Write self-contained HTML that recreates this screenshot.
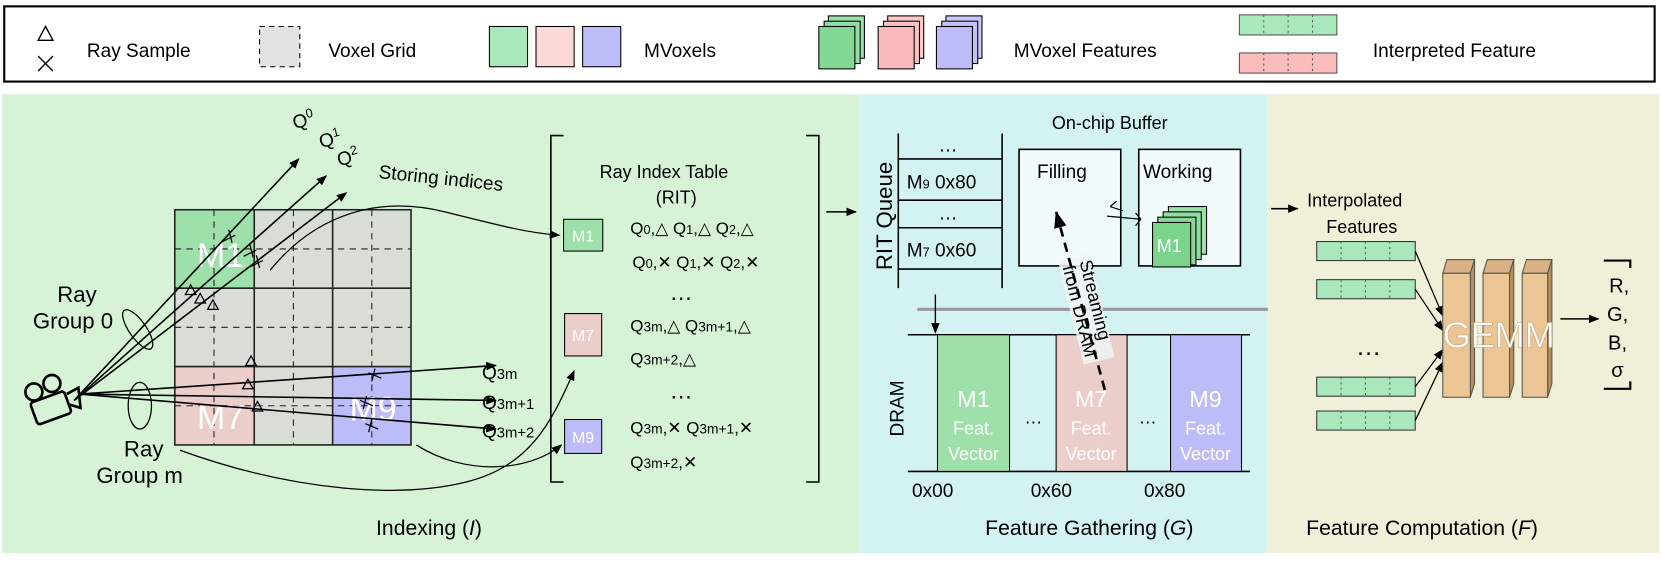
<!DOCTYPE html>
<html><head><meta charset="utf-8"><style>
html,body{margin:0;padding:0;background:#fff;}
svg{display:block;font-family:"Liberation Sans",sans-serif;}
</style></head><body>
<svg width="1661" height="564" viewBox="0 0 1568 532.4" preserveAspectRatio="none" xmlns="http://www.w3.org/2000/svg">
<defs>
<marker id="ah" markerWidth="10" markerHeight="8" refX="9" refY="4" orient="auto" markerUnits="userSpaceOnUse"><path d="M0,0 L10,4 L0,8 z" fill="#000"/></marker>
<marker id="ahb" markerWidth="16" markerHeight="12" refX="15" refY="6" orient="auto" markerUnits="userSpaceOnUse"><path d="M0,0 L16,6 L0,12 z" fill="#000"/></marker>
</defs>
<!-- legend -->
<rect x="4" y="6" width="1558" height="71" fill="#fff" stroke="#000" stroke-width="2"/>
<path d="M36,38 L43,25 L50,38 z" fill="none" stroke="#000" stroke-width="1.3"/>
<path d="M36,53 L50,67 M50,53 L36,67" stroke="#000" stroke-width="1.3"/>
<text x="82" y="54" font-size="18">Ray Sample</text>
<rect x="245" y="25" width="38" height="38" fill="#e2e2e2" stroke="#000" stroke-dasharray="5,4"/>
<text x="310" y="54" font-size="18">Voxel Grid</text>
<rect x="462" y="25" width="36" height="38" fill="#a8e8bb" stroke="#000"/>
<rect x="506" y="25" width="36" height="38" fill="#fbd9d9" stroke="#000"/>
<rect x="550" y="25" width="36" height="38" fill="#bdbdf8" stroke="#000"/>
<text x="608" y="54" font-size="18">MVoxels</text>
<g stroke="#000" stroke-width="1">
<rect x="782" y="15" width="34" height="40" fill="#9ee0ab"/><rect x="778" y="20" width="34" height="40" fill="#8fdda1"/><rect x="773" y="25" width="34" height="40" fill="#82d894"/>
<rect x="838" y="15" width="34" height="40" fill="#fbc8c8"/><rect x="834" y="20" width="34" height="40" fill="#fbc0c0"/><rect x="829" y="25" width="34" height="40" fill="#fbb8b8"/>
<rect x="893" y="15" width="34" height="40" fill="#cacaf8"/><rect x="889" y="20" width="34" height="40" fill="#c3c3f8"/><rect x="884" y="25" width="34" height="40" fill="#bcbcf8"/>
</g>
<text x="957" y="54" font-size="18">MVoxel Features</text>
<rect x="1170" y="14" width="92" height="19" fill="#a8e8bb" stroke="#555"/>
<rect x="1170" y="50" width="92" height="19" fill="#fbbcbc" stroke="#555"/>
<g stroke="#555" stroke-dasharray="2,3"><path d="M1193,14V33M1216,14V33M1239,14V33M1193,50V69M1216,50V69M1239,50V69"/></g>
<text x="1296" y="54" font-size="18">Interpreted Feature</text>

<!-- panels -->
<rect x="2" y="89" width="809" height="433" fill="#d6f3d6"/>
<rect x="811" y="89" width="385" height="433" fill="#d3f3f2"/>
<rect x="1196" y="89" width="370" height="433" fill="#f0f0d8"/>

<!-- grid -->
<rect x="165" y="198" width="75" height="75" fill="#9de0a9"/>
<rect x="240" y="198" width="148" height="148" fill="#d8ddd5"/>
<rect x="165" y="273" width="75" height="74" fill="#d8ddd5"/>
<rect x="165" y="346" width="75" height="74" fill="#ebcdca"/>
<rect x="240" y="346" width="74" height="74" fill="#d8ddd5"/>
<rect x="314" y="346" width="74" height="74" fill="#bcbcf8"/>
<g stroke="#222" stroke-width="1" stroke-dasharray="6,5" fill="none">
<path d="M202,198V420M277,198V420M351,198V420M165,235H388M165,309H388M165,383H388"/>
</g>
<g stroke="#222" stroke-width="1.5" fill="none">
<rect x="165" y="198" width="223" height="222"/>
<path d="M240,198V420M314,198V420M165,272H388M165,346H388"/>
</g>
<g fill="#fff" font-size="32"><text x="186" y="252">M1</text><text x="186" y="405">M7</text><text x="330" y="397">M9</text></g>

<!-- rays -->
<g stroke="#000" stroke-width="1.5" fill="none" marker-end="url(#ah)">
<path d="M70,378 L282,150"/><path d="M70,378 L308,166"/><path d="M70,378 L327,182"/>
<path d="M75,372 L468,345"/><path d="M75,372 L468,378"/><path d="M75,372 L468,405"/>
</g>
<g stroke="#000" stroke-width="1.2" fill="none">
<path d="M210,228l12,-6m-6,-5l3,12M230,242l12,-6m-6,-5l3,12M236,252l12,-6m-6,-5l3,12"/>
<path d="M175,278l5,-9l5,9z M184,286l5,-9l5,9z M196,292l5,-9l5,9z"/>
<path d="M232,345l5,-9l5,9z M229,367l5,-9l5,9z M238,388l5,-9l5,9z"/>
<path d="M345,400l12,5M351,396l-3,12M340,378l12,5M346,374l-3,12M348,352l12,5M354,348l-3,12"/>
<ellipse cx="130" cy="311" rx="8" ry="22" transform="rotate(-35 130 311)"/>
<ellipse cx="132" cy="383" rx="11" ry="22"/>
<path d="M170,425 C280,465 380,470 440,455 S520,400 542,350" marker-end="url(#ah)"/>
<path d="M393,420 C440,450 500,445 530,420" marker-end="url(#ah)"/>
<path d="M255,255 C300,200 360,185 420,200 S500,220 528,222" marker-end="url(#ah)"/>
</g>
<!-- camera -->
<g stroke="#000" stroke-width="2.5" fill="none">
<circle cx="32" cy="370" r="8"/><circle cx="49" cy="362" r="8"/>
<rect x="31" y="374" width="34" height="22" rx="3" transform="rotate(-20 48 385)"/>
<path d="M63,372 L74,366 L76,385 L66,382"/>
</g>
<g font-size="18">
<text x="278" y="122" transform="rotate(-15 278 122)">Q<tspan font-size="12" dy="-7">0</tspan></text>
<text x="303" y="140" transform="rotate(-15 303 140)">Q<tspan font-size="12" dy="-7">1</tspan></text>
<text x="320" y="157" transform="rotate(-15 320 157)">Q<tspan font-size="12" dy="-7">2</tspan></text>
<text x="357" y="168" transform="rotate(6 357 168)">Storing indices</text>
<text x="455" y="358">Q<tspan font-size="14">3m</tspan></text>
<text x="455" y="386">Q<tspan font-size="14">3m+1</tspan></text>
<text x="455" y="413">Q<tspan font-size="14">3m+2</tspan></text>
</g>
<g font-size="21">
<text x="54" y="285">Ray</text><text x="31" y="310">Group 0</text>
<text x="117" y="431">Ray</text><text x="91" y="456">Group m</text>
</g>
<text x="355" y="505" font-size="20">Indexing  (<tspan font-style="italic">I</tspan>)</text>

<!-- RIT -->
<g stroke="#000" stroke-width="1.5" fill="none">
<path d="M532,128 H520 V455 H532"/><path d="M761,128 H773 V455 H761"/>
</g>
<text x="566" y="168" font-size="17">Ray Index Table</text>
<text x="619" y="192" font-size="17">(RIT)</text>
<rect x="532" y="207" width="37" height="30" fill="#9de0a9" stroke="#000"/>
<text x="540" y="228" font-size="15" fill="#fff">M1</text>
<rect x="533" y="296" width="35" height="40" fill="#ebcdca" stroke="#000"/>
<text x="540" y="322" font-size="15" fill="#fff">M7</text>
<rect x="533" y="396" width="35" height="32" fill="#bcbcf8" stroke="#000"/>
<text x="540" y="418" font-size="15" fill="#fff">M9</text>
<g font-size="16">
<text x="595" y="221">Q<tspan font-size="12">0</tspan>,△ Q<tspan font-size="12">1</tspan>,△ Q<tspan font-size="12">2</tspan>,△</text>
<text x="597" y="253">Q<tspan font-size="12">0</tspan>,✕ Q<tspan font-size="12">1</tspan>,✕ Q<tspan font-size="12">2</tspan>,✕</text>
<text x="632" y="283" font-size="22">…</text>
<text x="595" y="313">Q<tspan font-size="13">3m</tspan>,△ Q<tspan font-size="13">3m+1</tspan>,△</text>
<text x="595" y="344">Q<tspan font-size="13">3m+2</tspan>,△</text>
<text x="632" y="376" font-size="22">…</text>
<text x="595" y="409">Q<tspan font-size="13">3m</tspan>,✕ Q<tspan font-size="13">3m+1</tspan>,✕</text>
<text x="595" y="442">Q<tspan font-size="13">3m+2</tspan>,✕</text>
</g>
<path d="M780,200 H808" stroke="#000" stroke-width="1.5" marker-end="url(#ah)"/>

<!-- RIT queue -->
<text transform="translate(842,255) rotate(-90)" font-size="21">RIT Queue</text>
<g stroke="#000" stroke-width="1.5"><path d="M848,126V272M946,126V272M848,150H946M848,189H946M848,215H946M848,254H946"/></g>
<g font-size="18"><text x="886" y="143">…</text><text x="856" y="178">M<tspan font-size="12">9</tspan> 0x80</text>
<text x="886" y="207">…</text><text x="856" y="242">M<tspan font-size="12">7</tspan> 0x60</text></g>
<text x="993" y="122" font-size="17">On-chip Buffer</text>
<rect x="962" y="141" width="96" height="110" fill="#f2fbfb" stroke="#000" stroke-width="1.5"/>
<rect x="1075" y="141" width="96" height="110" fill="#f2fbfb" stroke="#000" stroke-width="1.5"/>
<text x="979" y="168" font-size="18">Filling</text>
<text x="1079" y="168" font-size="18">Working</text>
<path d="M1048,195 l12,4 m-12,-4 l6,-5 M1045,204 l32,3 m0,0 l-5,-6 m5,6 l-5,6" stroke="#000" stroke-width="1.2" fill="none"/>
<g stroke="#000" stroke-width="1"><rect x="1103" y="195" width="36" height="45" fill="#9de0a9"/><rect x="1098" y="200" width="36" height="45" fill="#92dca0"/><rect x="1093" y="205" width="36" height="45" fill="#86d896"/><rect x="1088" y="210" width="36" height="42" fill="#7ad48c"/></g>
<text x="1092" y="238" font-size="17" fill="#fff">M1</text>
<path d="M866,292 H1197" stroke="#999" stroke-width="3"/>
<path d="M883,278 V314" stroke="#000" stroke-width="1.3" marker-end="url(#ah)"/>
<!-- DRAM -->
<path d="M857,316 H1180 M857,445 H1180" stroke="#000" stroke-width="1.5"/>
<rect x="885" y="316" width="68" height="129" fill="#9de0a9" stroke="#000"/>
<rect x="997" y="316" width="67" height="129" fill="#ebcdca" stroke="#000"/>
<rect x="1105" y="316" width="67" height="129" fill="#bcbcf8" stroke="#000"/>
<g fill="#fff" text-anchor="middle"><text x="919" y="384" font-size="22">M1</text><text x="919" y="410" font-size="17">Feat.</text><text x="919" y="434" font-size="17">Vector</text>
<text x="1030" y="384" font-size="22">M7</text><text x="1030" y="410" font-size="17">Feat.</text><text x="1030" y="434" font-size="17">Vector</text>
<text x="1138" y="384" font-size="22">M9</text><text x="1138" y="410" font-size="17">Feat.</text><text x="1138" y="434" font-size="17">Vector</text></g>
<text x="967" y="400" font-size="17">…</text><text x="1075" y="400" font-size="17">…</text>
<text transform="translate(853,412) rotate(-90)" font-size="18">DRAM</text>
<g font-size="18"><text x="861" y="469">0x00</text><text x="973" y="469">0x60</text><text x="1080" y="469">0x80</text></g>
<rect x="1010" y="242" width="30" height="100" fill="#eef6f4" opacity="0.85" transform="rotate(-14 1025 290)"/>
<path d="M1043,368 L997,200" stroke="#000" stroke-width="2.5" stroke-dasharray="9,6" marker-end="url(#ahb)"/>
<text transform="translate(1019,247) rotate(76)" font-size="17">Streaming</text>
<text transform="translate(1003,252) rotate(76)" font-size="17">from DRAM</text>
<text x="930" y="505" font-size="20">Feature Gathering (<tspan font-style="italic">G</tspan>)</text>

<!-- Feature computation -->
<path d="M1200,197 H1225" stroke="#000" stroke-width="1.5" marker-end="url(#ah)"/>
<text x="1234" y="195" font-size="17">Interpolated</text>
<text x="1252" y="220" font-size="17">Features</text>
<g stroke="#333" stroke-width="1" fill="#a8e8bb">
<rect x="1243" y="228" width="93" height="18"/><rect x="1243" y="264" width="93" height="18"/>
<rect x="1243" y="356" width="93" height="18"/><rect x="1243" y="388" width="93" height="18"/>
</g>
<g stroke="#555" stroke-dasharray="2,3"><path d="M1266,228v18M1289,228v18M1312,228v18M1266,264v18M1289,264v18M1312,264v18M1266,356v18M1289,356v18M1312,356v18M1266,388v18M1289,388v18M1312,388v18"/></g>
<text x="1280" y="335" font-size="24">…</text>
<g stroke="#000" stroke-width="1.2" marker-end="url(#ah)"><path d="M1336,237 L1362,298"/><path d="M1336,273 L1362,312"/><path d="M1336,365 L1362,330"/><path d="M1336,397 L1362,342"/></g>
<g stroke="#555" stroke-width="1">
<path d="M1362,258 l4,-13 h26 l-4,13 z M1400,258 l4,-13 h25 l-4,13 z M1437,258 l4,-13 h24 l-4,13 z" fill="#d9b184"/>
<path d="M1388,258 l4,-13 v117 l-4,13 z M1425,258 l4,-13 v117 l-4,13 z M1461,258 l4,-13 v117 l-4,13 z" fill="#b8905e"/>
<rect x="1362" y="258" width="26" height="117" fill="#ecc594"/>
<rect x="1400" y="258" width="25" height="117" fill="#ecc594"/>
<rect x="1437" y="258" width="24" height="117" fill="#ecc594"/>
</g>
<text x="1362" y="328" font-size="34" fill="#fff" stroke="#c9a070" stroke-width="0.5">GEMM</text>
<path d="M1473,301 H1509" stroke="#000" stroke-width="1.5" marker-end="url(#ah)"/>
<path d="M1539,253 V246 H1514 M1539,360 V367 H1514" stroke="#000" stroke-width="2" fill="none"/>
<g font-size="19"><text x="1519" y="276">R,</text><text x="1517" y="303">G,</text><text x="1518" y="330">B,</text><text x="1521" y="356">σ</text></g>
<text x="1233" y="505" font-size="20">Feature Computation (<tspan font-style="italic">F</tspan>)</text>
</svg>
</body></html>
